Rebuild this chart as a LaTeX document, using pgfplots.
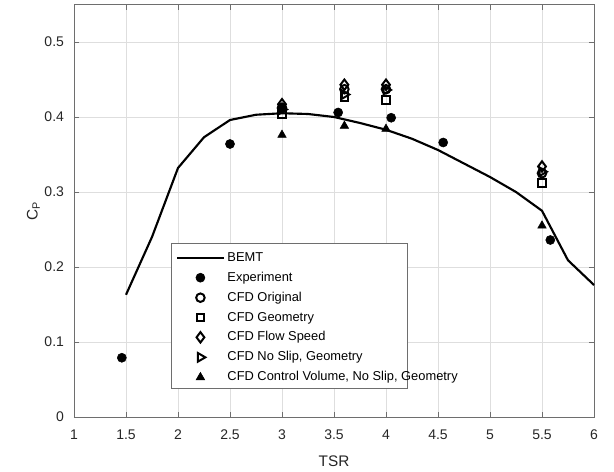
\documentclass[border=0pt]{standalone}
\usepackage{pgfplots}
\pgfplotsset{compat=1.18}
\usepackage{fontspec}
\setmainfont{Liberation Sans}
\definecolor{axgray}{RGB}{110,110,110}
\definecolor{txt}{RGB}{38,38,38}
\begin{document}
\begin{tikzpicture}
\begin{axis}[
  scale only axis,
  width=390pt, height=309.4pt,
  xmin=1, xmax=6, ymin=0, ymax=0.55,
  xtick={1,1.5,...,6}, ytick={0,0.1,...,0.5},
  xticklabels={1,1.5,2,2.5,3,3.5,4,4.5,5,5.5,6},
  yticklabels={0,0.1,0.2,0.3,0.4,0.5},
  /pgf/number format/assume math mode=true,
  tick align=inside,
  major tick length=4pt,
  axis line style={axgray, line width=0.6pt},
  every tick/.style={axgray, line width=0.5pt},
  tick label style={font=\fontsize{10.5pt}{12pt}\selectfont, text=txt},
  grid=major,
  major grid style={black!13, line width=0.5pt},
  xlabel={TSR}, ylabel={C\textsubscript{P}},
  label style={font=\fontsize{11.5pt}{13pt}\selectfont, text=txt},
  xlabel style={at={(rel axis cs:0.5,-0.107)}, anchor=center},
  ylabel style={at={(rel axis cs:-0.078,0.5)}, anchor=center},
  xticklabel style={yshift=-6pt},
  yticklabel style={xshift=-4pt},
  clip=false,
  legend style={at={(rel axis cs:0.188,0.422)}, anchor=north west,
    draw=none, fill=none,
    font=\fontsize{9.65pt}{11pt}\selectfont, text=black,
    row sep=2.5pt, inner xsep=3pt, inner ysep=5pt},
  legend cell align=left,
  legend image code/.code={\draw[mark repeat=2,mark phase=2,#1] plot coordinates {(0pt,0pt)(17.5pt,0pt)(35pt,0pt)};},
]
\fill[white] (rel axis cs:0.188,0.070) rectangle (rel axis cs:0.642,0.422);
\addplot[black, line width=1.6pt, mark=none] coordinates {
(1.5,0.163)(1.75,0.240)(2,0.332)(2.25,0.373)(2.5,0.396)(2.75,0.403)(3,0.405)
(3.25,0.404)(3.5,0.400)(3.75,0.392)(4,0.383)(4.25,0.371)(4.5,0.356)(4.75,0.338)
(5,0.320)(5.25,0.300)(5.5,0.275)(5.75,0.209)(6,0.176)};
\addlegendentry{BEMT}
\addplot[only marks, mark=*, mark size=3.4pt, black] coordinates {
(1.46,0.079)(2.5,0.364)(3.0,0.413)(3.54,0.406)(4.05,0.399)(4.55,0.366)(5.58,0.236)};
\addlegendentry{Experiment}
\addplot[only marks, mark=o, mark size=3.2pt, black, line width=1.5pt] coordinates {
(3.0,0.412)(3.6,0.437)(4.0,0.437)(5.5,0.325)};
\addlegendentry{CFD Original}
\addplot[only marks, mark=square, mark size=2.9pt, black, line width=1.5pt] coordinates {
(3.0,0.404)(3.6,0.427)(4.0,0.423)(5.5,0.312)};
\addlegendentry{CFD Geometry}
\addplot[only marks, mark=diamond, mark size=3.9pt, black, line width=1.5pt] coordinates {
(3.0,0.417)(3.6,0.443)(4.0,0.443)(5.5,0.334)};
\addlegendentry{CFD Flow Speed}
\addplot[only marks, mark=triangle, mark options={rotate=-90}, mark size=3.7pt, black, line width=1.5pt] coordinates {
(3.0,0.410)(3.6,0.430)(4.0,0.436)(5.5,0.327)};
\addlegendentry{CFD No Slip, Geometry}
\addplot[only marks, mark=triangle*, mark size=3.7pt, black] coordinates {
(3.0,0.376)(3.6,0.388)(4.0,0.384)(5.5,0.255)};
\addlegendentry{CFD Control Volume, No Slip, Geometry}
\draw[axgray, line width=0.6pt] (rel axis cs:0.188,0.070) rectangle (rel axis cs:0.642,0.422);
\path[draw=none] (rel axis cs:-0.1423,-0.126) rectangle (rel axis cs:1.0385,1.0109);
\end{axis}
\end{tikzpicture}
\end{document}
